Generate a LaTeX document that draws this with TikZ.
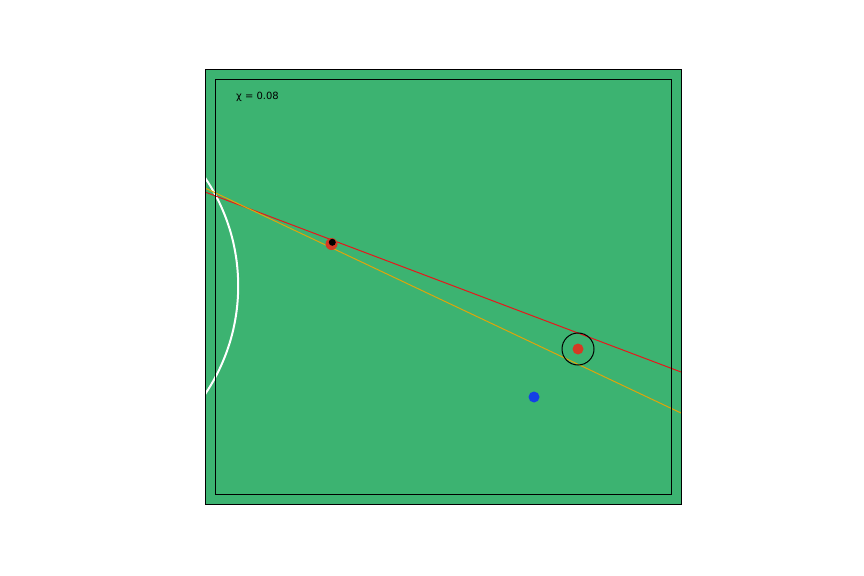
\documentclass[tikz,border=0pt]{standalone}
\usepackage{fontspec}
\setmainfont{DejaVu Sans}
\usetikzlibrary{positioning,calc}
\definecolor{Felt}{HTML}{3CB371}
\definecolor{BallRed}{HTML}{D53A24}
\definecolor{BallBlue}{HTML}{1440E6}
\definecolor{AimRed}{HTML}{E8161A}
\definecolor{AimGold}{HTML}{E0A40A}
\tikzset{
  frame/.style={draw=black, line width=0.8bp},
  ball/.style={circle, inner sep=0pt, minimum size=11bp},
  aim/.style={line width=1bp},
  label/.style={font=\fontsize{10}{12}\selectfont, anchor=west, inner sep=0pt}
}
\begin{document}
\begin{tikzpicture}[x=1bp,y=-1bp]
\useasboundingbox (0,0) rectangle (864,576);
% table
\fill[Felt] (205,69) rectangle (681,504);
\begin{scope}
\clip (205,69) rectangle (681,504);
\draw[white, line width=2bp] (45,286) circle[radius=193.2];
\draw[aim, draw=AimRed] (205,192) -- (681,372);
\draw[aim, draw=AimGold] (205,188) -- (681,413);
\end{scope}
\draw[frame] (205,69) rectangle (681,504);
\draw[frame] (215,79) rectangle (671,494);
% balls
\node[ball, fill=BallRed, minimum size=12bp] (target) at (331.5,244) {};
\node[ball, fill=black, minimum size=7bp] (ghost) at (332.3,242.3) {};
\node[ball, fill=BallRed] (cue) at (578,349) {};
\node[circle, draw=black, line width=1bp, minimum size=32bp, inner sep=0pt] (ring) at (cue) {};
\node[ball, fill=BallBlue] (other) at (534,397) {};
\node[label] (chi) at (236,96.5) {χ = 0.08};
\end{tikzpicture}
\end{document}
